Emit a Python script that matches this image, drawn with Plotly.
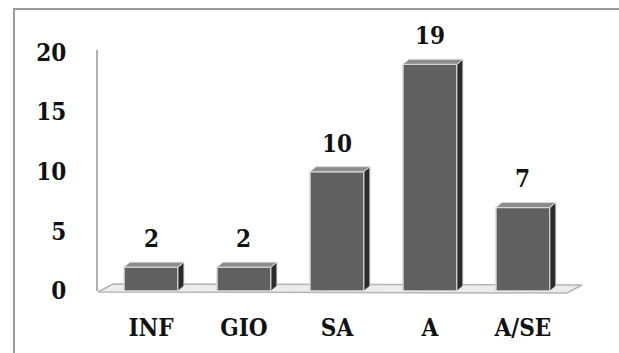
import plotly.graph_objects as go

# Data
categories = ["INF", "GIO", "SA", "A", "A/SE"]
counts = [2, 2, 10, 19, 7]
y_ticks = [0, 5, 10, 15, 20]

# Figure geometry (pixels)
W, H = 619, 353
ML, MR, MT, MB = 98, 44, 50, 62
PW, PH = W - ML - MR, H - MT - MB
X_RANGE = [-0.57, 4.56]
Y_RANGE = [0, 20.2]

FONT = dict(family="DejaVu Serif Condensed", size=24, color="#111111",
            weight="bold")

FRONT = "#606060"
SIDE = "#2b2b2b"
TOP = "#8c8c8c"
EDGE = "#d8d8d8"

BAR_W = 0.58
# depth offsets of the 3-D effect, converted from pixels to data units
DX = 6 / (PW / (X_RANGE[1] - X_RANGE[0]))
DY = 5 / (PH / (Y_RANGE[1] - Y_RANGE[0]))


def px_x(px):
    return (px - ML) / PW


def px_y(py):
    return (H - MB - py) / PH


xs = list(range(len(categories)))

fig = go.Figure()

shapes = []

# floor slab
floor = [(98, 292), (567, 293), (582, 285), (113, 284)]
path = "M " + " L ".join(f"{px_x(a)},{px_y(b)}" for a, b in floor) + " Z"
shapes.append(dict(type="path", xref="paper", yref="paper", path=path,
                   fillcolor="#ececec", line=dict(color="#b5b5b5", width=1.5),
                   layer="below"))

# front faces
fig.add_trace(go.Bar(
    x=xs, y=counts, width=BAR_W,
    marker=dict(color=FRONT, line=dict(color=EDGE, width=1.5)),
    hoverinfo="skip", showlegend=False,
))

# side and top faces built from the same values
for x, v in zip(xs, counts):
    x0, x1 = x - BAR_W / 2, x + BAR_W / 2
    side = (f"M {x1},{0} L {x1},{v} L {x1 + DX},{v + DY} "
            f"L {x1 + DX},{DY} Z")
    top = (f"M {x0},{v} L {x1},{v} L {x1 + DX},{v + DY} "
           f"L {x0 + DX},{v + DY} Z")
    shapes.append(dict(type="path", xref="x", yref="y", path=side,
                       fillcolor=SIDE, line=dict(color=EDGE, width=1)))
    shapes.append(dict(type="path", xref="x", yref="y", path=top,
                       fillcolor=TOP, line=dict(color=EDGE, width=1)))

# outer frame (top and left edges)
shapes.append(dict(type="line", xref="paper", yref="paper",
                   x0=px_x(13), x1=px_x(619), y0=px_y(9), y1=px_y(9),
                   line=dict(color="#9a9a9a", width=2)))
shapes.append(dict(type="line", xref="paper", yref="paper",
                   x0=px_x(14), x1=px_x(14), y0=px_y(9), y1=px_y(353),
                   line=dict(color="#9a9a9a", width=2)))

annotations = [
    dict(x=x, y=v, xref="x", yref="y", text=str(v), showarrow=False,
         yanchor="bottom", yshift=12, font=FONT)
    for x, v in zip(xs, counts)
]

fig.update_layout(
    width=W, height=H,
    margin=dict(l=ML, r=MR, t=MT, b=MB),
    paper_bgcolor="white", plot_bgcolor="white",
    shapes=shapes, annotations=annotations,
    font=FONT,
    xaxis=dict(range=X_RANGE, tickmode="array", tickvals=xs,
               ticktext=categories, tickfont=FONT,
               showgrid=False, zeroline=False, showline=False,
               ticks="", ticklabelstandoff=20, fixedrange=True),
    yaxis=dict(range=Y_RANGE, tickmode="array", tickvals=y_ticks,
               ticktext=[str(t) for t in y_ticks], tickfont=FONT,
               showgrid=False, zeroline=False, showline=True,
               linecolor="#b0b0b0", linewidth=2,
               ticks="", ticklabelstandoff=25, fixedrange=True),
)

fig.write_html("out.html")
